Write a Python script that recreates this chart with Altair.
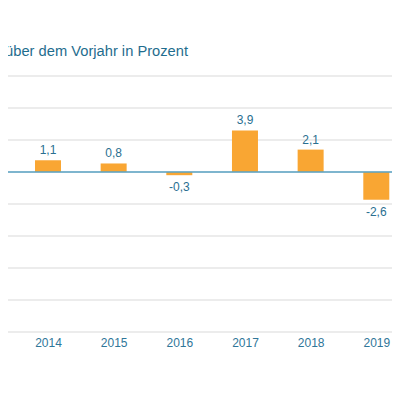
import altair as alt
import pandas as pd

years = [2014, 2015, 2016, 2017, 2018, 2019]
values = [1.1, 0.8, -0.3, 3.9, 2.1, -2.6]
labels = ["1,1", "0,8", "-0,3", "3,9", "2,1", "-2,6"]
grid_values = [-15, -12, -9, -6, -3, 0, 3, 6, 9]
title_text = "Veränderung gegenüber dem Vorjahr in Prozent"

df = pd.DataFrame({"year": years, "value": values, "label": labels})
grid_df = pd.DataFrame({"g": grid_values})

FONT = "Liberation Sans"
TEXT_COLOR = "#2a6f91"

xscale = alt.Scale(domain=[2013.391, 2019.361], nice=False, zero=False, padding=0)
yscale = alt.Scale(domain=[-15, 9], nice=False, zero=False)

x_axis = alt.Axis(values=years, format="d", title=None, grid=False, ticks=False,
                  domain=False, labelFontSize=12, labelColor="#2f7699",
                  labelFont=FONT, labelPadding=5)

x = alt.X("year:Q", scale=xscale, axis=x_axis)
y = alt.Y("value:Q", scale=yscale, axis=None)

grid = alt.Chart(grid_df).mark_rule(color="#d9d9d9", strokeWidth=1.2).encode(
    y=alt.Y("g:Q", scale=yscale, axis=None)
)

bars = alt.Chart(df).mark_bar(color="#f9a633", size=26).encode(x=x, y=y, y2=alt.datum(0))

zero = alt.Chart(grid_df).transform_filter("datum.g == 0").mark_rule(
    color="#5aa3c4", strokeWidth=1.3
).encode(y=alt.Y("g:Q", scale=yscale, axis=None))

pos_text = alt.Chart(df).transform_filter("datum.value >= 0").mark_text(
    baseline="bottom", dy=-3, fontSize=12, font=FONT, color=TEXT_COLOR
).encode(x=x, y=y, text="label:N")

neg_text = alt.Chart(df).transform_filter("datum.value < 0").mark_text(
    baseline="top", dy=7, fontSize=12, font=FONT, color=TEXT_COLOR
).encode(x=x, y=y, text="label:N")

title = alt.Chart(pd.DataFrame({"t": [title_text]})).mark_text(
    align="right", baseline="alphabetic", fontSize=14.7, font=FONT, color="#1f6d8e"
).encode(x=alt.value(180), y=alt.value(-20), text="t:N")

chart = alt.layer(grid, bars, zero, pos_text, neg_text, title).properties(
    width=392, height=256,
    padding={"left": 0, "top": 68, "right": -8, "bottom": 40},
    autosize=alt.AutoSizeParams(type="none"),
    background="white",
).configure_view(stroke=None)

chart.save("out.html", embed_options={"renderer": "svg", "actions": False})
